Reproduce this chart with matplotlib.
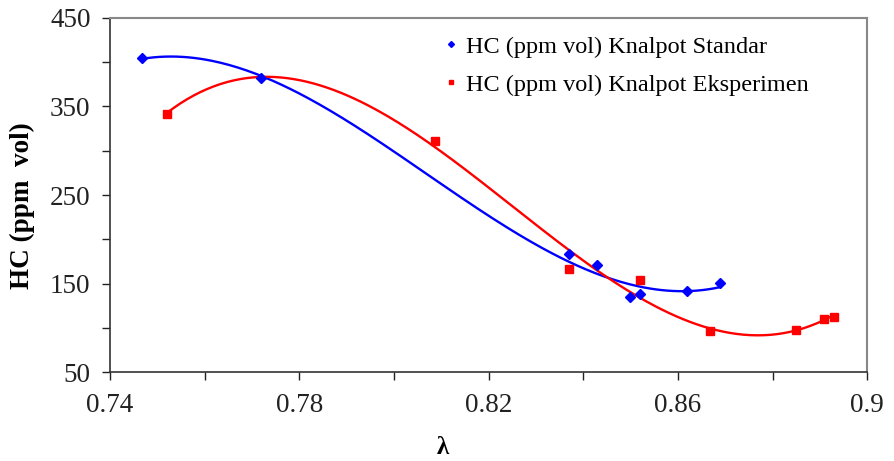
import numpy as np
import matplotlib
matplotlib.use("Agg")
import matplotlib.pyplot as plt

# lambda vs HC emissions, standard vs experimental muffler
lam_std = [0.7468, 0.7719, 0.8369, 0.8429, 0.8499, 0.8519, 0.8619, 0.8688]
hc_std = [405, 382, 183, 171, 135, 138, 142, 151]

lam_exp = [0.7520, 0.8087, 0.8369, 0.8519, 0.8667, 0.8849, 0.8908, 0.8929]
hc_exp = [342, 311, 166, 154, 96, 97, 110, 112]

label_std = "HC (ppm vol) Knalpot Standar"
label_exp = "HC (ppm vol) Knalpot Eksperimen"

plt.rcParams['font.family'] = ['Liberation Serif', 'DejaVu Serif']

fig = plt.figure(figsize=(8.94, 4.61), dpi=100)
ax = fig.add_axes([0.123, 0.193, 0.847, 0.768])

def trend(x, y, order=3):
    coef = np.polyfit(x, y, order)
    xs = np.linspace(min(x), max(x), 200)
    return xs, np.polyval(coef, xs)

xs, ys = trend(lam_std, hc_std)
ax.plot(xs, ys, color="blue", lw=1.7)
xs, ys = trend(lam_exp, hc_exp)
ax.plot(xs, ys, color="red", lw=1.7)

ax.plot(lam_std, hc_std, "D", color="blue", ms=5, ls="none", label=label_std)
ax.plot(lam_exp, hc_exp, "s", color="red", ms=5.5, ls="none", label=label_exp)

ax.set_xlim(0.74, 0.9)
ax.set_ylim(50, 450)
ax.set_xticks(np.arange(0.74, 0.901, 0.02))
ax.set_xticklabels(["0.74", "", "0.78", "", "0.82", "", "0.86", "", "0.9"])
ax.set_yticks(np.arange(50, 451, 50))
ax.set_yticklabels(["50", "", "150", "", "250", "", "350", "", "450"])
ax.tick_params(direction="out", length=6, width=1, labelsize=19.5, colors="#222222")
ax.tick_params(axis="x", pad=9)
ax.tick_params(axis="y", pad=8)

for s in ["left", "bottom"]:
    ax.spines[s].set_color("#333333")
    ax.spines[s].set_linewidth(1.2)
for s in ["top", "right"]:
    ax.spines[s].set_color("#888888")
    ax.spines[s].set_linewidth(1.5)

ax.set_ylabel("HC (ppm  vol)", fontsize=19.5, fontweight="bold")
ax.yaxis.set_label_coords(-0.099, 0.47)
ax.set_xlabel("λ", fontsize=18, fontweight="bold")
ax.xaxis.set_label_coords(0.44, -0.18)

ax.legend(loc="upper left", bbox_to_anchor=(0.441, 0.95), frameon=False,
          fontsize=17.5, handlelength=0.6, handletextpad=0.3, markerscale=0.6,
          labelspacing=0.65, borderaxespad=0, borderpad=0)

fig.savefig("out.png", dpi=100)
